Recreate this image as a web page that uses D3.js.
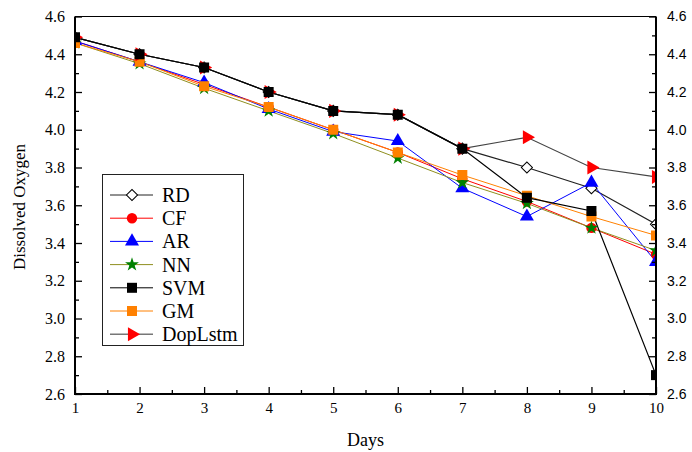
<!DOCTYPE html>
<html>
<head>
<meta charset="utf-8">
<script src="https://cdn.jsdelivr.net/npm/d3@7"></script>
<style>
  body { margin: 0; background: #fff; }
  svg { display: block; }
</style>
</head>
<body>
<div id="chart"></div>
<script>
// values
const days = [1, 2, 3, 4, 5, 6, 7, 8, 9, 10];
const rd      = [4.49, 4.40, 4.33, 4.20, 4.10, 4.08, 3.90, 3.80, 3.69, 3.50];
const cf      = [4.47, 4.36, 4.24, 4.12, 4.00, 3.88, 3.74, 3.62, 3.48, 3.34];
const ar      = [4.47, 4.36, 4.25, 4.11, 3.99, 3.94, 3.69, 3.54, 3.72, 3.30];
const nn      = [4.46, 4.35, 4.22, 4.10, 3.98, 3.85, 3.72, 3.61, 3.48, 3.36];
const gm      = [4.46, 4.36, 4.23, 4.12, 4.00, 3.88, 3.76, 3.65, 3.54, 3.44];
const doplstm = [4.49, 4.40, 4.33, 4.20, 4.10, 4.08, 3.90, 3.96, 3.80, 3.75];
const svm     = [4.49, 4.40, 4.33, 4.20, 4.10, 4.08, 3.90, 3.64, 3.57, 2.70];

const yTicks = [2.6, 2.8, 3.0, 3.2, 3.4, 3.6, 3.8, 4.0, 4.2, 4.4, 4.6];

const legendOrder = ['RD', 'CF', 'AR', 'NN', 'SVM', 'GM', 'DopLstm'];

const series = {
    RD:      { values: rd,      line: '#222',    fill: '#fff',    stroke: '#000',    shape: 'diamond' },
    CF:      { values: cf,      line: '#ff0000', fill: '#ff0000', stroke: 'none',    shape: 'circle' },
    AR:      { values: ar,      line: '#0000ff', fill: '#0000ff', stroke: 'none',    shape: 'triangle' },
    NN:      { values: nn,      line: '#8f8f1f', fill: '#008000', stroke: 'none',    shape: 'star' },
    GM:      { values: gm,      line: '#ff8000', fill: '#ff8000', stroke: 'none',    shape: 'square' },
    DopLstm: { values: doplstm, line: '#444',    fill: '#ff0000', stroke: 'none',    shape: 'right' },
    SVM:     { values: svm,     line: '#000',    fill: '#000',    stroke: 'none',    shape: 'square' }
};
// drawing order (later ones on top)
const drawOrder = ['RD', 'CF', 'AR', 'NN', 'GM', 'DopLstm', 'SVM'];

const width = 692, height = 452;
const plotLeft = 75, plotRight = 656, plotTop = 16.5, plotBottom = 394;

const svg = d3.select('#chart').append('svg')
    .attr('width', width)
    .attr('height', height);

const x = d3.scaleLinear().domain([1, 10]).range([plotLeft, plotRight]);
const y = d3.scaleLinear().domain([2.6, 4.6]).range([plotBottom, plotTop]);

function symbolPath(shape) {
    switch (shape) {
        case 'diamond': return d3.symbol(d3.symbolSquare, 62)();
        case 'circle': return d3.symbol(d3.symbolCircle, 85)();
        case 'triangle': return d3.symbol(d3.symbolTriangle, 85)();
        case 'star': return d3.symbol(d3.symbolStar, 60)();
        case 'square': return d3.symbol(d3.symbolSquare, 100)();
        case 'right': return d3.symbol(d3.symbolTriangle, 85)();
    }
}
function symbolRotate(shape) {
    if (shape === 'diamond') return 45;
    if (shape === 'right') return 90;
    return 0;
}

// clip
svg.append('defs').append('clipPath').attr('id', 'plot-clip')
    .append('rect')
    .attr('x', plotLeft).attr('y', plotTop)
    .attr('width', plotRight - plotLeft).attr('height', plotBottom - plotTop);

const plot = svg.append('g').attr('clip-path', 'url(#plot-clip)');

const line = d3.line()
    .x((d, i) => x(days[i]))
    .y(d => y(d));

drawOrder.forEach(name => {
    const s = series[name];
    plot.append('path')
        .datum(s.values)
        .attr('fill', 'none')
        .attr('stroke', s.line)
        .attr('stroke-width', name === 'RD' || name === 'SVM' || name === 'DopLstm' ? 1.2 : 1)
        .attr('d', line);
});

drawOrder.forEach(name => {
    const s = series[name];
    plot.append('g')
        .selectAll('path')
        .data(s.values)
        .enter().append('path')
        .attr('d', symbolPath(s.shape))
        .attr('transform', (d, i) => `translate(${x(days[i])},${y(d)}) rotate(${symbolRotate(s.shape)})`)
        .attr('fill', s.fill)
        .attr('stroke', s.stroke)
        .attr('stroke-width', 1);
});

// axes
const serif = '"Liberation Serif", "Times New Roman", serif';
const sans = '"Liberation Sans", Arial, sans-serif';

function styleAxis(g, font, size) {
    g.select('.domain').remove();
    g.selectAll('.tick line').attr('stroke', '#000').attr('stroke-width', 1.3);
    g.selectAll('.tick text')
        .attr('fill', '#000')
        .style('font-family', font)
        .style('font-size', size + 'px');
}

const minorY = d3.range(2.7, 4.6, 0.2);
const minorX = d3.range(1.5, 10, 1);

// left
svg.append('g').attr('transform', `translate(${plotLeft},0)`)
    .call(d3.axisLeft(y).tickValues(yTicks).tickFormat(d3.format('.1f')).tickSize(-7).tickPadding(10))
    .call(g => styleAxis(g, serif, 16));
svg.append('g').attr('transform', `translate(${plotLeft},0)`)
    .call(d3.axisLeft(y).tickValues(minorY).tickFormat('').tickSize(-4))
    .call(g => styleAxis(g, serif, 16));

// right
svg.append('g').attr('transform', `translate(${plotRight},0)`)
    .call(d3.axisRight(y).tickValues(yTicks).tickFormat(d3.format('.1f')).tickSize(-7).tickPadding(11))
    .call(g => styleAxis(g, sans, 14));
svg.append('g').attr('transform', `translate(${plotRight},0)`)
    .call(d3.axisRight(y).tickValues(minorY).tickFormat('').tickSize(-4))
    .call(g => styleAxis(g, sans, 14));

// bottom
svg.append('g').attr('transform', `translate(0,${plotBottom})`)
    .call(d3.axisBottom(x).tickValues(days).tickFormat(d3.format('d')).tickSize(-7).tickPadding(8))
    .call(g => styleAxis(g, serif, 15));
svg.append('g').attr('transform', `translate(0,${plotBottom})`)
    .call(d3.axisBottom(x).tickValues(minorX).tickFormat('').tickSize(-4))
    .call(g => styleAxis(g, serif, 15));

// frame
svg.append('line').attr('x1', plotLeft).attr('x2', plotRight).attr('y1', plotTop).attr('y2', plotTop)
    .attr('stroke', '#000').attr('stroke-width', 1);
svg.append('line').attr('x1', plotLeft).attr('x2', plotRight).attr('y1', plotBottom).attr('y2', plotBottom)
    .attr('stroke', '#000').attr('stroke-width', 2);
svg.append('line').attr('x1', plotLeft).attr('x2', plotLeft).attr('y1', plotTop).attr('y2', plotBottom + 1)
    .attr('stroke', '#000').attr('stroke-width', 2);
svg.append('line').attr('x1', plotRight).attr('x2', plotRight).attr('y1', plotTop).attr('y2', plotBottom + 1)
    .attr('stroke', '#000').attr('stroke-width', 2);

// titles
svg.append('text')
    .attr('x', (plotLeft + plotRight) / 2)
    .attr('y', 446)
    .attr('text-anchor', 'middle')
    .style('font-family', serif)
    .style('font-size', '18px')
    .text('Days');

svg.append('text')
    .attr('transform', `translate(25,207) rotate(-90)`)
    .attr('text-anchor', 'middle')
    .style('font-family', serif)
    .style('font-size', '17px')
    .text('Dissolved Oxygen');

// legend
const legend = svg.append('g');
legend.append('rect')
    .attr('x', 102.5).attr('y', 174.5)
    .attr('width', 141).attr('height', 171)
    .attr('fill', '#fff')
    .attr('stroke', '#222')
    .attr('stroke-width', 1);

legendOrder.forEach((name, i) => {
    const s = series[name];
    const ly = 195 + i * 23.2;
    const row = legend.append('g').attr('transform', `translate(0,${ly})`);
    row.append('line')
        .attr('x1', 110).attr('x2', 153)
        .attr('stroke', name === 'DopLstm' ? '#777' : s.line)
        .attr('stroke-width', name === 'DopLstm' ? 1.6 : 1);
    row.append('path')
        .attr('d', symbolPath(s.shape))
        .attr('transform', `translate(132,0) rotate(${symbolRotate(s.shape)})`)
        .attr('fill', s.fill)
        .attr('stroke', s.stroke);
    row.append('text')
        .attr('x', 162)
        .attr('y', 0)
        .attr('dy', '0.35em')
        .style('font-family', serif)
        .style('font-size', '20px')
        .text(name);
});
</script>
</body>
</html>
